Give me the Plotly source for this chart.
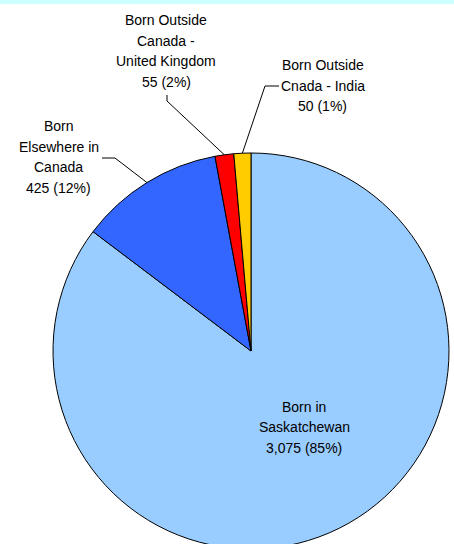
import math
import plotly.graph_objects as go

# ---- data ----
categories = ["Born in Saskatchewan", "Born Elsewhere in Canada",
              "Born Outside Canada - United Kingdom", "Born Outside Cnada - India"]
counts = [3075, 425, 55, 50]
percent_labels = ["85%", "12%", "2%", "1%"]
label_lines = [
    ["Born in", "Saskatchewan"],
    ["Born", "Elsewhere in", "Canada"],
    ["Born Outside", "Canada -", "United Kingdom"],
    ["Born Outside", "Cnada - India"],
]
colors = ["#99CCFF", "#3366FF", "#FF0000", "#FFCC00"]

# ---- layout constants (pixels) ----
W, H = 454, 549          # the pie runs a few pixels past the bottom of the 544px window
CX, R = 251, 198
DOM_Y_TOP = 2 * R / H
CY = H - R  # pie centre from top (pie sits on bottom of domain)

# label anchors: (centre x, first line centre y)
label_pos = [(304, 406.5), (58.5, 126), (166, 20), (322.5, 65)]
LINE_GAP = 20.6
# leader lines: (start, elbow) per slice; None for no leader
leaders = [None, ((102, 158), (115, 158)), ((167, 95), (167, 101)), ((279, 86), (265, 86))]

fig = go.Figure(go.Pie(
    labels=categories,
    values=counts,
    sort=False,
    direction="clockwise",
    rotation=0,
    marker=dict(colors=colors, line=dict(color="#000000", width=1)),
    textinfo="none",
    hoverinfo="label+value",
    showlegend=False,
    domain=dict(x=[(CX - R) / W, (CX + R) / W], y=[0, DOM_Y_TOP]),
))

def px(x):
    return x / W

def py(y):
    return 1 - y / H

annotations = []
shapes = []
total = sum(counts)
cum = 0
for i, v in enumerate(counts):
    lines = label_lines[i] + [f"{v:,} ({percent_labels[i]})"]
    lx, ly = label_pos[i]
    for k, t in enumerate(lines):
        annotations.append(dict(
            x=px(lx), y=py(ly + k * LINE_GAP), xref="paper", yref="paper",
            text=t, showarrow=False, xanchor="center", yanchor="middle",
            font=dict(family="Arial, Liberation Sans, sans-serif", size=14, color="#000000"),
        ))
    ang = 2 * math.pi * (cum + v / 2) / total
    cum += v
    if leaders[i] is not None:
        (sx, sy), (ex, ey) = leaders[i]
        tx = CX + R * math.sin(ang)
        ty = CY - R * math.cos(ang)
        path = f"M {px(sx)},{py(sy)} L {px(ex)},{py(ey)} L {px(tx)},{py(ty)}"
        shapes.append(dict(type="path", path=path, xref="paper", yref="paper",
                           line=dict(color="#000000", width=1)))

# light cyan strip along the top
shapes.append(dict(type="rect", xref="paper", yref="paper", x0=0, x1=1,
                   y0=py(4), y1=1, fillcolor="#CCFFFF", line=dict(width=0), layer="above"))

fig.update_layout(
    width=W, height=H,
    margin=dict(l=0, r=0, t=0, b=0),
    paper_bgcolor="#FFFFFF",
    plot_bgcolor="#FFFFFF",
    annotations=annotations,
    shapes=shapes,
)

# remove the browser's default page margin so the chart sits flush in the window
fig.write_html(
    "out.html",
    config={"displayModeBar": False},
    post_script="document.body.style.margin='0';"
                "document.documentElement.style.overflow='hidden';"
                "document.body.style.overflow='hidden';"
                "window.scrollTo(0,0);",
)
